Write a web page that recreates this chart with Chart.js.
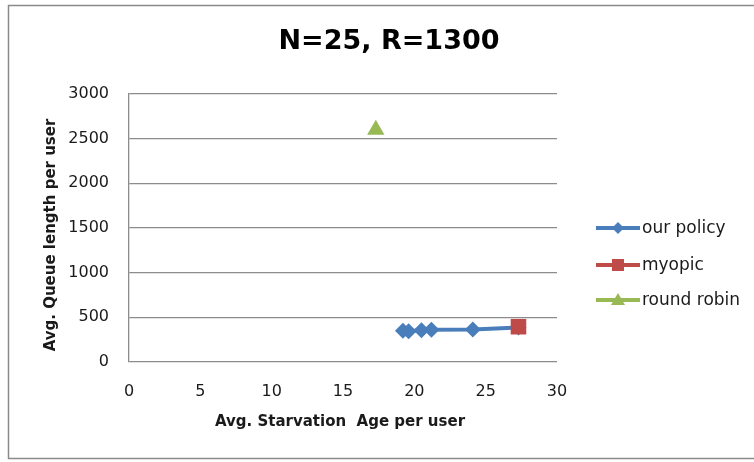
<!DOCTYPE html>
<html>
<head>
<meta charset="utf-8">
<script src="https://cdn.jsdelivr.net/npm/chart.js@4/dist/chart.umd.min.js"></script>
<style>
  html, body { margin: 0; padding: 0; background: #fff; }
  #wrap { width: 754px; height: 462px; position: relative; }
</style>
</head>
<body>
<div id="wrap"><canvas id="chart" width="754" height="462"></canvas></div>
<script>
// values
const ourPolicyX = [19.2, 19.6, 20.5, 21.2, 24.1, 27.3];
const ourPolicyY = [350, 345, 355, 360, 365, 385];
const myopicX = [27.3];
const myopicY = [395];
const roundRobinX = [17.3];
const roundRobinY = [2600];

const seriesNames = ['our policy', 'myopic', 'round robin'];
const seriesColors = ['#4a7ebb', '#be4b48', '#98b954'];
const seriesMarkers = ['rectRot', 'rect', 'triangle'];

const xTicks = [0, 5, 10, 15, 20, 25, 30];
const yTicks = [0, 500, 1000, 1500, 2000, 2500, 3000];

const titleText = 'N=25, R=1300';
const xTitle = 'Avg. Starvation  Age per user';
const yTitle = 'Avg. Queue length per user';

function toPoints(xs, ys) {
    return xs.map((x, i) => ({ x: x, y: ys[i] }));
}

// frame, title, axis titles and the excel-style legend
const decor = {
    id: 'decor',
    beforeDraw(chart) {
        const ctx = chart.ctx;
        ctx.save();
        ctx.strokeStyle = '#8a8a8a';
        ctx.lineWidth = 1.5;
        ctx.strokeRect(8.5, 5.5, 760, 453);
        ctx.restore();
    },
    afterDraw(chart) {
        const ctx = chart.ctx;
        ctx.save();
        ctx.fillStyle = '#000';
        ctx.textAlign = 'center';
        ctx.textBaseline = 'middle';
        ctx.font = 'bold 27px "DejaVu Sans"';
        ctx.fillText(titleText, 389, 42);

        ctx.fillStyle = '#1a1a1a';
        ctx.font = 'bold 15px "DejaVu Sans"';
        ctx.fillText(xTitle, 340, 422);

        ctx.translate(51, 235);
        ctx.rotate(-Math.PI / 2);
        ctx.fillText(yTitle, 0, 0);
        ctx.restore();

        // legend
        const legendY = [228, 265, 300];
        ctx.save();
        seriesNames.forEach((name, i) => {
            const y = legendY[i];
            ctx.strokeStyle = seriesColors[i];
            ctx.lineWidth = 4;
            ctx.beginPath();
            ctx.moveTo(596, y);
            ctx.lineTo(640, y);
            ctx.stroke();
            ctx.fillStyle = seriesColors[i];
            ctx.beginPath();
            if (seriesMarkers[i] === 'rectRot') {
                ctx.moveTo(618, y - 6); ctx.lineTo(624, y); ctx.lineTo(618, y + 6); ctx.lineTo(612, y);
            } else if (seriesMarkers[i] === 'rect') {
                ctx.rect(612, y - 6, 12, 12);
            } else {
                ctx.moveTo(618, y - 7); ctx.lineTo(625, y + 5); ctx.lineTo(611, y + 5);
            }
            ctx.closePath();
            ctx.fill();
            ctx.fillStyle = '#1a1a1a';
            ctx.font = '17px "DejaVu Sans"';
            ctx.textAlign = 'left';
            ctx.textBaseline = 'middle';
            ctx.fillText(name, 642, y + 1);
        });
        ctx.restore();
    }
};

const ctx = document.getElementById('chart').getContext('2d');
const chart = new Chart(ctx, {
    type: 'scatter',
    data: {
        datasets: [
            {
                label: seriesNames[1],
                data: toPoints(myopicX, myopicY),
                backgroundColor: seriesColors[1],
                borderColor: seriesColors[1],
                pointStyle: 'rect',
                pointRadius: 11,
                pointBorderWidth: 0,
                showLine: true,
                borderWidth: 4,
                order: 0
            },
            {
                label: seriesNames[0],
                data: toPoints(ourPolicyX, ourPolicyY),
                backgroundColor: seriesColors[0],
                borderColor: seriesColors[0],
                pointStyle: 'rectRot',
                pointRadius: 8,
                pointBorderWidth: 0,
                showLine: true,
                borderWidth: 4,
                order: 1
            },
            {
                label: seriesNames[2],
                data: toPoints(roundRobinX, roundRobinY),
                backgroundColor: seriesColors[2],
                borderColor: seriesColors[2],
                pointStyle: 'triangle',
                pointRadius: 10,
                pointBorderWidth: 0,
                showLine: true,
                borderWidth: 4,
                order: 2
            }
        ]
    },
    options: {
        responsive: false,
        animation: false,
        layout: { padding: { left: 0, top: 94, right: 197, bottom: 0 } },
        plugins: {
            legend: { display: false },
            title: { display: false },
            tooltip: { enabled: false }
        },
        scales: {
            x: {
                type: 'linear',
                min: 0,
                max: 30,
                afterFit: s => { s.height = 100; },
                afterBuildTicks: s => { s.ticks = xTicks.map(v => ({ value: v })); },
                grid: { display: false, drawTicks: false },
                border: { display: false },
                ticks: {
                    padding: 20,
                    color: '#1a1a1a',
                    font: { family: 'DejaVu Sans', size: 16 },
                    callback: v => String(v)
                }
            },
            y: {
                type: 'linear',
                min: 0,
                max: 3000,
                afterFit: s => { s.width = 129; },
                afterBuildTicks: s => { s.ticks = yTicks.map(v => ({ value: v })); },
                grid: { color: '#8c8c8c', lineWidth: 1.3, drawTicks: false },
                border: { display: true, color: '#8c8c8c', width: 1.3 },
                ticks: {
                    padding: 20,
                    color: '#1a1a1a',
                    font: { family: 'DejaVu Sans', size: 16 },
                    callback: v => String(v)
                }
            }
        }
    },
    plugins: [decor]
});
</script>
</body>
</html>
